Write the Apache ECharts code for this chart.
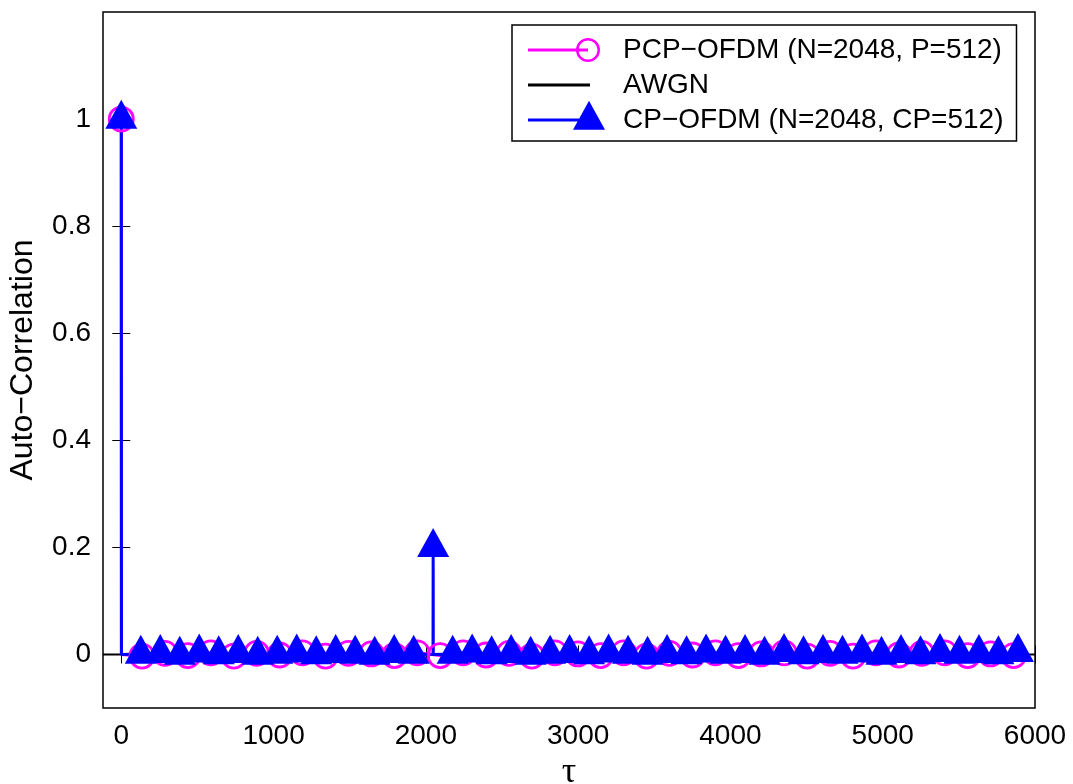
<!DOCTYPE html>
<html>
<head>
<meta charset="utf-8">
<script src="https://cdn.jsdelivr.net/npm/echarts@6/dist/echarts.min.js"></script>
<style>html,body{margin:0;padding:0;background:#fff;}#c{width:1073px;height:784px;}</style>
</head>
<body>
<div id="c"></div>
<script>
// ---- data ----
const xTicks = [0, 1000, 2000, 3000, 4000, 5000, 6000];
const yTicks = [0, 0.2, 0.4, 0.6, 0.8, 1];
const seriesNames = ['PCP\u2212OFDM (N=2048, P=512)', 'AWGN', 'CP\u2212OFDM (N=2048, CP=512)'];

// CP-OFDM: marker points
const cpTau = [0, 128, 256, 384, 512, 640, 768, 896, 1024, 1152, 1280, 1408, 1536, 1664, 1792, 1920,
  2048, 2176, 2304, 2432, 2560, 2688, 2816, 2944, 3072, 3200, 3328, 3456, 3584, 3712, 3840, 3968,
  4096, 4224, 4352, 4480, 4608, 4736, 4864, 4992, 5120, 5248, 5376, 5504, 5632, 5760, 5888];
const cpVal = [1, 0.001, 0.002, -0.001, 0.003, 0.000, 0.002, -0.001, 0.001, 0.003, 0.000, 0.002, 0.001, -0.001, 0.002, 0.001,
  0.2, 0.001, 0.003, 0.000, 0.002, -0.001, 0.001, 0.002, 0.000, 0.003, 0.001, -0.001, 0.002, 0.000, 0.003, 0.001,
  0.002, -0.001, 0.004, 0.000, 0.002, 0.001, 0.003, -0.001, 0.002, 0.000, 0.004, 0.001, 0.002, 0.000, 0.004];
// CP-OFDM: vertical drops of the line (no marker)
const cpDropTau = [1, 2047, 2049];
const cpDropVal = [0, 0, 0];

// PCP-OFDM: marker points
const pcpTau = [0, 136, 287, 437, 588, 739, 889, 1040, 1190, 1341, 1492, 1642, 1793, 1943, 2094, 2245,
  2395, 2546, 2696, 2847, 2998, 3148, 3299, 3449, 3600, 3751, 3901, 4052, 4202, 4353, 4504, 4654,
  4805, 4955, 5106, 5257, 5407, 5558, 5708, 5859];
const pcpVal = [1, -0.003, 0.002, -0.002, 0.003, -0.003, 0.002, -0.001, 0.003, -0.003, 0.002, 0.001, -0.002, 0.003, -0.002, 0.003,
  -0.001, 0.002, -0.003, 0.003, 0.001, -0.002, 0.003, -0.003, 0.002, -0.001, 0.003, -0.002, 0.001, 0.003, -0.003, 0.002,
  -0.003, 0.003, -0.001, 0.002, 0.003, -0.002, 0.001, -0.002];
const pcpDropTau = [1];
const pcpDropVal = [0];

// AWGN
const awgnTau = [-120, 0, 0, 0, 6000];
const awgnVal = [0, 0, 1, 0, 0];

// ---- build ----
function build(tau, val, dropTau, dropVal) {
  const pts = tau.map((t, i) => ({ value: [t, val[i]] }));
  dropTau.forEach((t, i) => pts.push({ value: [t, dropVal[i]], symbol: 'none' }));
  pts.sort((a, b) => a.value[0] - b.value[0]);
  return pts;
}

const FONT = 'Liberation Sans';
const BANDS = 'M0,0 L0.01,0 L0,0.01 Z M90,40 L89.99,40 L90,39.99 Z ';
const iconPCP = 'path://' + BANDS + 'M0,18.5 L60,18.5 L60,21.5 L0,21.5 Z ' +
  'M48,20 A12,12 0 1,1 72,20 A12,12 0 1,1 48,20 Z M50.5,20 A9.5,9.5 0 1,0 69.5,20 A9.5,9.5 0 1,0 50.5,20 Z';
const iconAWGN = 'path://' + BANDS + 'M0,18.5 L62,18.5 L62,21.5 L0,21.5 Z';
const iconCP = 'path://' + BANDS + 'M0,18.5 L61,18.5 L61,21.5 L0,21.5 Z M61,0.7 L77,29.7 L45,29.7 Z';

const tickStyle = { color: '#000', width: 1 };
const chart = echarts.init(document.getElementById('c'), null, { renderer: 'canvas' });
chart.setOption({
  animation: false,
  backgroundColor: '#fff',
  grid: { left: 103, right: 38, top: 12, bottom: 76, outerBoundsMode: 'none', containLabel: false,
    show: true, borderColor: '#000', borderWidth: 1.5, backgroundColor: '#fff' },
  legend: {
    orient: 'vertical', left: 512, top: 25,
    itemWidth: 90, itemHeight: 40, itemGap: -5,
    padding: [5, 13, 1, 16],
    borderColor: '#000', borderWidth: 1.5, borderRadius: 0, backgroundColor: '#fff',
    selectedMode: false,
    textStyle: { fontSize: 28, color: '#000', fontFamily: FONT },
    data: [
      { name: seriesNames[0], icon: iconPCP, itemStyle: { color: '#ff00ff', borderWidth: 0 } },
      { name: seriesNames[1], icon: iconAWGN, itemStyle: { color: '#000000', borderWidth: 0 } },
      { name: seriesNames[2], icon: iconCP, itemStyle: { color: '#0000ff', borderWidth: 0 } }
    ]
  },
  xAxis: [
    {
      type: 'value', min: -120, max: 6000, position: 'bottom',
      axisLine: { show: false },
      axisTick: { show: true, inside: true, length: 9, customValues: xTicks, lineStyle: tickStyle },
      axisLabel: { customValues: xTicks, fontSize: 28, color: '#000', margin: 14, fontFamily: FONT,
        formatter: v => String(v) },
      splitLine: { show: false },
      name: '\u03c4', nameLocation: 'middle', nameGap: 35,
      nameTextStyle: { fontSize: 36, color: '#000', fontFamily: 'Liberation Serif' }
    },
    {
      type: 'value', min: -120, max: 6000, position: 'top',
      axisLine: { show: false },
      axisTick: { show: true, inside: true, length: 9, customValues: xTicks, lineStyle: tickStyle },
      axisLabel: { show: false }, splitLine: { show: false }
    }
  ],
  yAxis: [
    {
      type: 'value', min: -0.1, max: 1.2, position: 'left',
      axisLine: { show: false },
      axisTick: { show: true, inside: true, length: 9, customValues: yTicks, lineStyle: tickStyle },
      axisLabel: { customValues: yTicks, fontSize: 28, color: '#000', margin: 12, fontFamily: FONT,
        formatter: v => String(+(+v).toFixed(1)) },
      splitLine: { show: false },
      name: 'Auto\u2212Correlation', nameLocation: 'middle', nameGap: 64,
      nameTextStyle: { fontSize: 32, color: '#000', fontFamily: FONT }
    },
    {
      type: 'value', min: -0.1, max: 1.2, position: 'right',
      axisLine: { show: false },
      axisTick: { show: true, inside: true, length: 9, customValues: yTicks, lineStyle: tickStyle },
      axisLabel: { show: false }, splitLine: { show: false }
    }
  ],
  series: [
    {
      name: seriesNames[0], type: 'line', xAxisIndex: 0, yAxisIndex: 0,
      data: build(pcpTau, pcpVal, pcpDropTau, pcpDropVal),
      showSymbol: true, showAllSymbol: true, symbol: 'circle', symbolSize: 24,
      itemStyle: { color: 'rgba(0,0,0,0)', borderColor: '#ff00ff', borderWidth: 2.8 },
      lineStyle: { color: '#ff00ff', width: 3 },
      emphasis: { disabled: true }, silent: true
    },
    {
      name: seriesNames[1], type: 'line', xAxisIndex: 0, yAxisIndex: 0,
      data: awgnTau.map((t, i) => [t, awgnVal[i]]),
      symbol: 'none', itemStyle: { color: '#000' },
      lineStyle: { color: '#000', width: 2 },
      emphasis: { disabled: true }, silent: true
    },
    {
      name: seriesNames[2], type: 'line', xAxisIndex: 0, yAxisIndex: 0,
      data: build(cpTau, cpVal, cpDropTau, cpDropVal),
      showSymbol: true, showAllSymbol: true, symbol: 'triangle', symbolSize: [32, 29], symbolOffset: [0, -4.8],
      itemStyle: { color: '#0000ff' },
      lineStyle: { color: '#0000ff', width: 3 },
      emphasis: { disabled: true }, silent: true
    }
  ]
});
</script>
</body>
</html>
